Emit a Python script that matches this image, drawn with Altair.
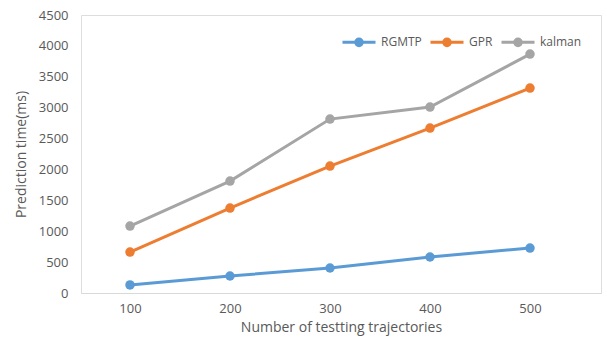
import altair as alt
import pandas as pd

x_vals = [100, 200, 300, 400, 500]
series_names = ["RGMTP", "GPR", "kalman"]
rgmtp = [130, 275, 405, 583, 728]
gpr = [663, 1375, 2055, 2670, 3317]
kalman = [1084, 1812, 2815, 3010, 3867]
colors = ["#5B9BD5", "#ED7D31", "#A5A5A5"]
y_ticks = [0, 500, 1000, 1500, 2000, 2500, 3000, 3500, 4000, 4500]

rows = []
for name, vals in zip(series_names, [rgmtp, gpr, kalman]):
    for xv, yv in zip(x_vals, vals):
        rows.append({"n": xv, "time": yv, "series": name})
df = pd.DataFrame(rows)

FONT = "Open Sans"
GRAY = "#595959"

sym_path = "M-1,0L1,0M0.2,0A0.2,0.2,0,1,1,-0.2,0A0.2,0.2,0,1,1,0.2,0Z"

chart = alt.Chart(df).mark_line(
    strokeWidth=3,
    point=alt.OverlayMarkDef(filled=True, size=90, opacity=1),
).encode(
    x=alt.X("n:Q",
            scale=alt.Scale(domain=[51, 571], nice=False, zero=False),
            axis=alt.Axis(values=x_vals, format="d", grid=False, ticks=False,
                          domainColor="#D9D9D9", domainWidth=1,
                          labelPadding=9, labelFontSize=13, labelColor=GRAY, labelFont=FONT,
                          title="Number of testting trajectories", titleFontSize=14,
                          titleFontWeight="normal", titleColor=GRAY, titleFont=FONT,
                          titlePadding=5)),
    y=alt.Y("time:Q",
            scale=alt.Scale(domain=[0, 4500], nice=False),
            axis=alt.Axis(values=y_ticks, format="d", grid=False, ticks=False, domain=False,
                          labelPadding=13, labelFontSize=13, labelColor=GRAY, labelFont=FONT,
                          title="Prediction time(ms)", titleFontSize=14,
                          titleFontWeight="normal", titleColor=GRAY, titleFont=FONT,
                          titlePadding=10)),
    color=alt.Color("series:N",
                    scale=alt.Scale(domain=series_names, range=colors),
                    sort=series_names,
                    legend=alt.Legend(title=None, orient="none", legendX=260, legendY=9,
                                      direction="horizontal", symbolType=sym_path,
                                      symbolSize=1089, symbolStrokeWidth=3,
                                      labelFontSize=12, labelColor=GRAY, labelFont=FONT,
                                      labelOffset=4, columnPadding=2)),
).properties(
    width=520, height=278,
    padding={"left": 81, "top": 15, "right": 6, "bottom": 44},
    autosize=alt.AutoSizeParams(type="none"),
).configure_view(
    stroke="#A6A6A6", strokeWidth=1
).configure(background="white")

chart.save("out.html", embed_options={"renderer": "svg", "actions": False})
